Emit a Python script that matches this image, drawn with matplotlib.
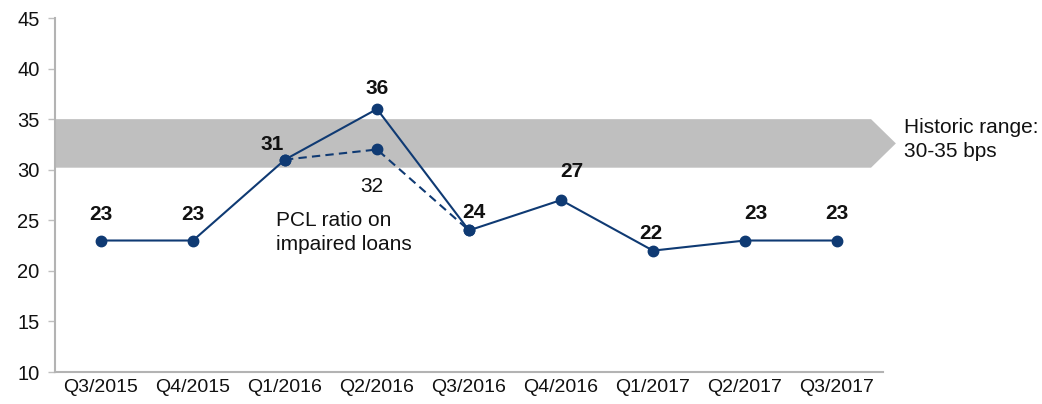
import matplotlib
matplotlib.use("Agg")
import matplotlib.pyplot as plt
from matplotlib.patches import Polygon
import numpy as np

plt.rcParams['font.family'] = ['Liberation Sans', 'DejaVu Sans']

quarters = ["Q3/2015", "Q4/2015", "Q1/2016", "Q2/2016", "Q3/2016",
            "Q4/2016", "Q1/2017", "Q2/2017", "Q3/2017"]
pcl_ratio = [23, 23, 31, 36, 24, 27, 22, 23, 23]
# adjusted (dashed) path: Q1/2016 -> Q2/2016 -> Q3/2016
adj_quarters_idx = [2, 3, 4]
adj_values = [31, 32, 24]
historic_low, historic_high = 30.2, 35
yticks = [10, 15, 20, 25, 30, 35, 40, 45]

# label offsets in pixels (dx, dy)
label_offsets = [(0, 26), (0, 26), (-13, 15), (0, 21), (5, 18),
                 (11, 29), (-2, 17), (11, 27), (0, 27)]

navy = '#0F3A73'
gray = '#BFBFBF'

fig = plt.figure(figsize=(10.42, 4.04), dpi=100)
ax = fig.add_axes([55/1042, 32/404, (883-55)/1042, (372-18)/404])

x = np.arange(len(quarters))
ax.set_xlim(-0.5, len(quarters) - 0.5)
ax.set_ylim(10, 45)

# historic range band with arrow tip
body_end = 8.37
tip = 8.64
band = Polygon([(-0.5, historic_low), (body_end, historic_low),
                (tip, (historic_low + historic_high) / 2),
                (body_end, historic_high), (-0.5, historic_high)],
               closed=True, facecolor=gray, edgecolor='none',
               clip_on=False, zorder=1)
ax.add_patch(band)
ax.text(8.73, 33.0, "Historic range:\n30-35 bps",
        fontsize=15, va='center', ha='left', color='#111111', linespacing=1.35)

# dashed adjusted path
ax.plot([x[i] for i in adj_quarters_idx], adj_values, color=navy, lw=1.5,
        ls=(0, (4, 2.5)), marker='o', ms=7.5, zorder=3, clip_on=False)
# main series
ax.plot(x, pcl_ratio, color=navy, lw=1.5, marker='o', ms=7.5, zorder=4,
        clip_on=False)

for xi, v, (dx, dy) in zip(x, pcl_ratio, label_offsets):
    ax.annotate(str(v), (xi, v), xytext=(dx, dy), textcoords='offset pixels',
                ha='center', va='center', fontsize=15, fontweight='bold',
                color='#111111')

ax.annotate(str(adj_values[1]), (x[3], adj_values[1]), xytext=(-5, -37),
            textcoords='offset pixels', ha='center', va='center',
            fontsize=15, color='#111111')
ax.text(1.9, 23.8, "PCL ratio on\nimpaired loans", fontsize=15, ha='left',
        va='center', color='#111111', linespacing=1.3)

ax.set_xticks(x)
ax.set_xticklabels(quarters, fontsize=14)
ax.set_yticks(yticks)
ax.set_yticklabels([str(t) for t in yticks], fontsize=14.5)
ax.tick_params(axis='x', length=0, pad=5, colors='#111111')
ax.tick_params(axis='y', length=5, width=1, colors='#111111',
               direction='out', pad=6)
ax.tick_params(axis='y', color=gray)
for s in ['top', 'right']:
    ax.spines[s].set_visible(False)
for s in ['left', 'bottom']:
    ax.spines[s].set_color('#B3B3B3')
    ax.spines[s].set_linewidth(1.5)

fig.savefig('out.png', dpi=100)
